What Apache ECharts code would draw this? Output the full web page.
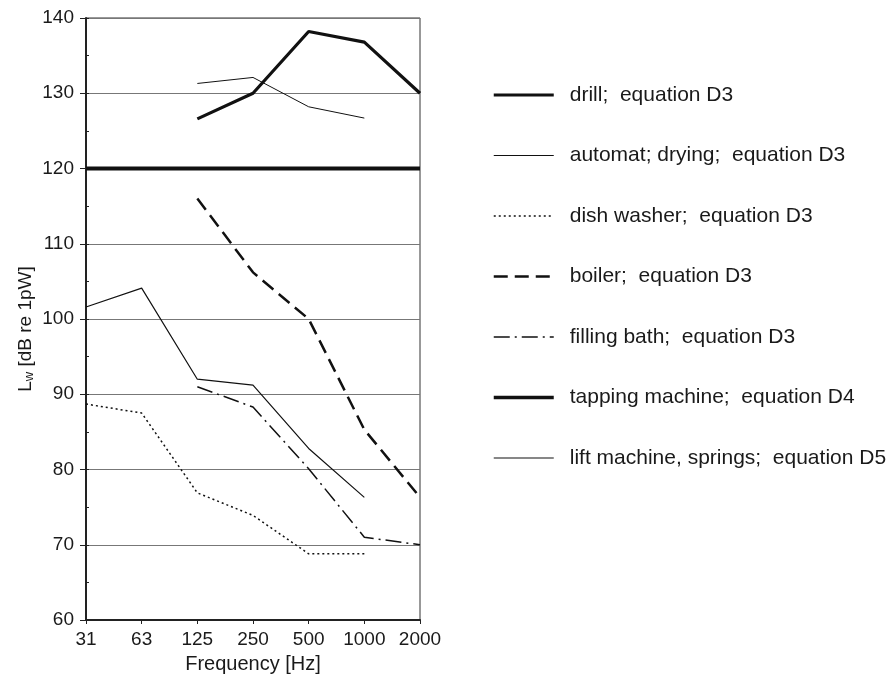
<!DOCTYPE html>
<html>
<head>
<meta charset="utf-8">
<script src="https://cdn.jsdelivr.net/npm/echarts@6/dist/echarts.min.js"></script>
<style>
  html, body { margin: 0; padding: 0; background: #fff; }
  #chart { width: 890px; height: 679px; }
</style>
</head>
<body>
<div id="chart"></div>
<script>
// frequency bands (Hz)
const frequencies = ['31', '63', '125', '250', '500', '1000', '2000']

// sound power levels, dB re 1pW
const drill = [null, null, 126.6, 130.0, 138.2, 136.8, 130.0]
const automatDrying = [null, null, 131.3, 132.1, 128.2, 126.7, null]
const dishWasher = [88.7, 87.5, 76.9, 73.9, 68.8, 68.8, null]
const boiler = [null, null, 116.0, 106.2, 100.0, 85.3, 76.3]
const fillingBath = [null, null, 91.0, 88.3, 80.1, 71.0, 70.0]
const tappingMachine = [120, 120, 120, 120, 120, 120, 120]
const liftMachine = [101.6, 104.1, 92.0, 91.2, 82.8, 76.3, null]

const chart = echarts.init(document.getElementById('chart'))

// name, data, line width, dash
const seriesDefs = [
  ['drill;  equation D3', drill, 3.2, 'solid'],
  ['automat; drying;  equation D3', automatDrying, 1, 'solid'],
  ['dish washer;  equation D3', dishWasher, 1.5, [2, 3]],
  ['boiler;  equation D3', boiler, 2.5, [14, 7]],
  ['filling bath;  equation D3', fillingBath, 1.5, [16, 5, 2, 5]],
  ['tapping machine;  equation D4', tappingMachine, 4, 'solid'],
  ['lift machine, springs;  equation D5', liftMachine, 1.2, 'solid'],
]

const textColor = '#1a1a1a'

chart.setOption({
  animation: false,
  textStyle: { fontFamily: 'Liberation Sans, Arial, sans-serif' },
  grid: {
    left: 86, top: 18, width: 334, height: 608,
    show: true, borderColor: '#333', borderWidth: 1,
  },
  legend: {
    orient: 'vertical',
    left: 487,
    top: 79.5,
    itemWidth: 60,
    itemHeight: 14,
    itemGap: 39.5,
    itemStyle: { opacity: 0 },
    textStyle: { color: textColor, fontSize: 21, lineHeight: 21, padding: [0, 0, 0, 11] },
    data: seriesDefs.map(d => ({
      name: d[0],
      lineStyle: { width: Math.min(d[2], 3.5), type: d[3], color: '#111' },
    })),
  },
  xAxis: {
    type: 'category',
    data: frequencies,
    boundaryGap: false,
    name: 'Frequency [Hz]',
    nameLocation: 'middle',
    nameGap: 34,
    nameTextStyle: { color: textColor, fontSize: 20 },
    axisLine: { lineStyle: { color: '#222', width: 2 } },
    axisTick: { show: true, length: 4, lineStyle: { color: '#222' } },
    axisLabel: { color: textColor, fontSize: 19, margin: 10 },
    splitLine: { show: false },
  },
  yAxis: [
    {
      type: 'value',
      min: 60, max: 140, interval: 10,
      name: '{a|L}{s|w}{a| [dB re 1pW]}',
      nameLocation: 'middle',
      nameGap: 50,
      nameRotate: 90,
      nameTextStyle: {
        padding: [0, 20, 0, 0],
        rich: {
          a: { fontSize: 19, color: textColor },
          s: { fontSize: 13, color: textColor, verticalAlign: 'bottom', padding: [8, 0, 0, 0] },
        },
      },
      axisLine: { show: true, lineStyle: { color: '#222', width: 2 } },
      axisTick: { show: true, length: 6, lineStyle: { color: '#222' } },
      axisLabel: { color: textColor, fontSize: 19, margin: 12 },
      splitLine: { show: true, lineStyle: { color: '#777', width: 1.2 } },
    },
    {
      type: 'value',
      position: 'left',
      min: 60, max: 140, interval: 5,
      axisLine: { show: false },
      axisTick: { show: true, inside: true, length: 3, lineStyle: { color: '#222' } },
      axisLabel: { show: false },
      splitLine: { show: false },
    },
  ],
  series: seriesDefs.map(d => ({
    name: d[0],
    type: 'line',
    data: d[1],
    symbol: 'none',
    silent: true,
    z: d[0].startsWith('tapping') ? 1 : 2,
    lineStyle: { color: '#111', width: d[2], type: d[3] },
    itemStyle: { color: '#111' },
  })),
})
</script>
</body>
</html>
